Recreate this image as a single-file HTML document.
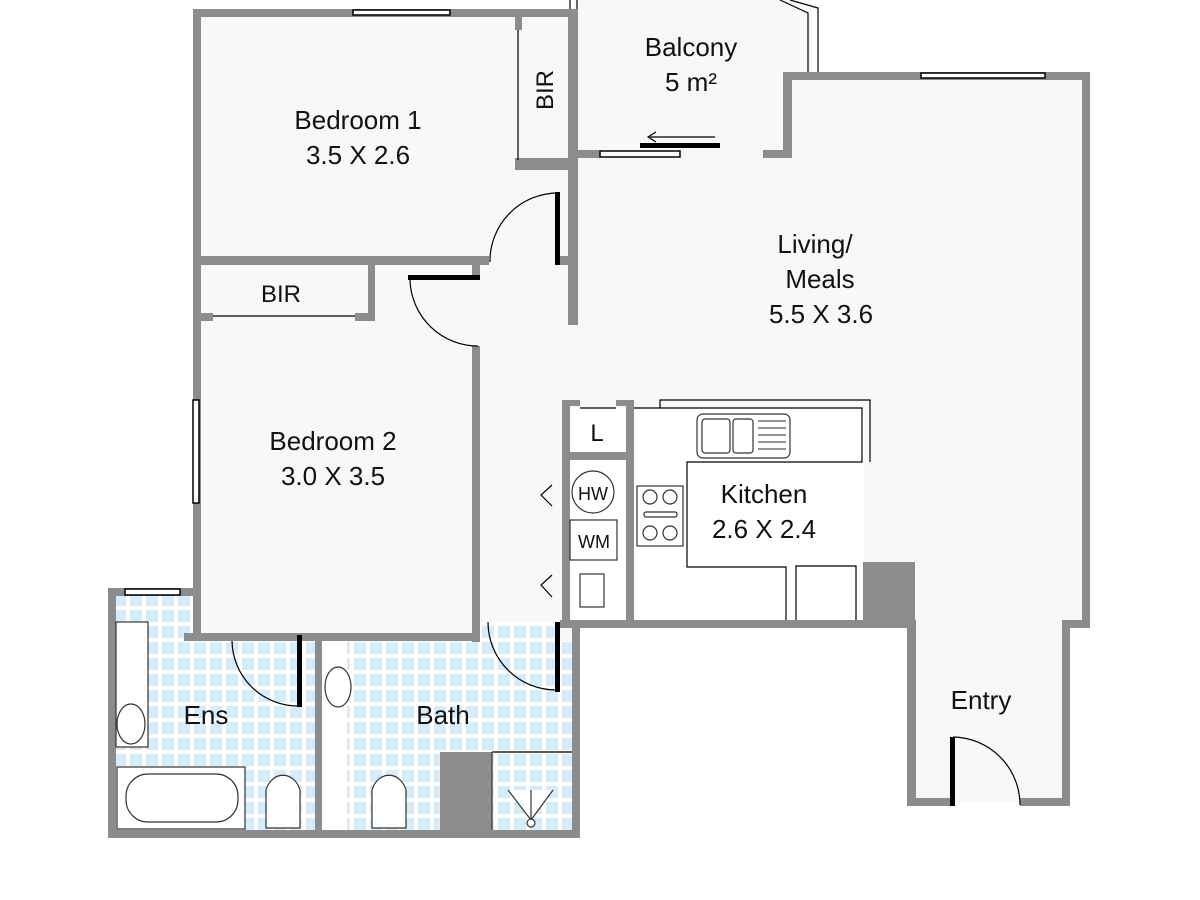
<!DOCTYPE html>
<html><head><style>html,body{margin:0;padding:0;background:#fff}svg{display:block}
text{font-family:"Liberation Sans",sans-serif;fill:#111}</style></head><body>
<svg width="1200" height="900" viewBox="0 0 1200 900" xmlns="http://www.w3.org/2000/svg">
<defs>
<pattern id="tile" width="16" height="16" patternUnits="userSpaceOnUse"><rect width="16" height="16" fill="#fff"/><rect x="2" y="2" width="12" height="12" fill="#d6ecfa"/></pattern>
</defs>
<!-- floor fills -->
<g fill="#f8f8f6">
<rect x="197" y="13" width="377" height="630"/>
<rect x="574" y="0" width="238" height="160"/>
<rect x="574" y="76" width="512" height="550"/>
<rect x="912" y="620" width="154" height="182"/>
</g>
<rect x="112" y="592" width="85" height="240" fill="url(#tile)"/>
<rect x="197" y="641" width="118" height="191" fill="url(#tile)"/>
<rect x="347" y="641" width="226" height="191" fill="url(#tile)"/>
<rect x="480" y="622" width="80" height="20" fill="url(#tile)"/>
<rect x="322" y="637" width="25" height="193" fill="#fff"/>
<rect x="634" y="408" width="230" height="214" fill="#fff"/>
<rect x="570" y="408" width="58" height="214" fill="#fff"/>
<!-- walls -->
<g fill="#8c8c8c">
<rect x="193" y="9" width="382" height="8"/>
<rect x="193" y="9" width="8" height="632"/>
<rect x="568" y="9" width="10" height="316"/>
<rect x="515" y="17" width="7" height="13"/>
<rect x="515" y="158" width="63" height="12"/>
<rect x="201" y="256" width="288" height="9"/>
<rect x="560" y="256" width="10" height="9"/>
<rect x="368" y="265" width="7" height="55"/>
<rect x="201" y="313" width="12" height="8"/>
<rect x="355" y="313" width="20" height="8"/>
<rect x="472" y="265" width="8" height="12"/>
<rect x="472" y="346" width="8" height="296"/>
<rect x="193" y="633" width="287" height="8"/>
<rect x="578" y="150" width="22" height="8"/>
<rect x="763" y="150" width="28" height="8"/>
<rect x="783" y="72" width="9" height="86"/>
<rect x="783" y="72" width="307" height="8"/>
<rect x="1082" y="72" width="8" height="556"/>
<rect x="1062" y="620" width="28" height="8"/>
<rect x="1062" y="620" width="8" height="186"/>
<rect x="907" y="620" width="9" height="186"/>
<rect x="907" y="798" width="45" height="8"/>
<rect x="1020" y="798" width="50" height="8"/>
<rect x="560" y="620" width="356" height="8"/>
<rect x="863" y="562" width="52" height="60"/>
<rect x="562" y="400" width="8" height="228"/>
<rect x="626" y="400" width="8" height="228"/>
<rect x="570" y="400" width="10" height="6"/>
<rect x="616" y="400" width="10" height="6"/>
<rect x="570" y="452" width="56" height="8"/>
<rect x="108" y="588" width="8" height="250"/>
<rect x="108" y="588" width="92" height="8"/>
<rect x="108" y="830" width="472" height="8"/>
<rect x="572" y="628" width="8" height="210"/>
<rect x="315" y="637" width="7" height="193"/>
<rect x="440" y="752" width="52" height="78"/>
<rect x="184" y="633" width="16" height="8"/>
</g>
<!-- windows -->
<g fill="#fff" stroke="#000" stroke-width="1.5">
<rect x="353" y="10" width="97" height="5"/>
<rect x="921" y="73" width="124" height="5"/>
<rect x="600" y="151" width="80" height="6"/>
<rect x="125" y="589" width="55" height="6"/>
<rect x="193" y="400" width="6" height="103"/>
</g>
<g fill="none" stroke="#000" stroke-width="1.2">
<path d="M570 0 V9 M577 0 V9"/>
<path d="M780 0 L808 13 V72 M790 0 L818 8 V72"/>
<path d="M518 30 V160"/>
<path d="M213 316 H355"/>
<path d="M715 137 H650 M656 132 L648 137 L656 142"/>
<path d="M558 193 A68 68 0 0 0 490 262"/>
<path d="M410 280 A68 68 0 0 0 478 346"/>
<path d="M953 737 A68 68 0 0 1 1020 805"/>
<path d="M232 641 A66 66 0 0 0 298 706"/>
<path d="M488 622 A68 68 0 0 0 556 690"/>
<path d="M580 408 H616"/>
<path d="M660 408 V400 H870 V462 M634 408 H862 V462 H687 V567 H786 V620"/>
<path d="M796 620 V566 H856 V620"/>
<path d="M552 485 L541 495 L552 506 M552 575 L541 585 L552 597"/>
<path d="M492 752 H572"/>
</g>
<g fill="#000">
<rect x="640" y="143" width="80" height="5"/>
<rect x="555" y="192" width="5" height="73"/>
<rect x="408" y="275" width="72" height="5"/>
<rect x="950" y="737" width="5" height="69"/>
<rect x="297" y="635" width="5" height="72"/>
<rect x="555" y="622" width="5" height="70"/>
</g>
<!-- fixtures -->
<g fill="#fff" stroke="#333" stroke-width="1.2">
<rect x="697" y="414" width="93" height="44" rx="6"/>
<rect x="702" y="419" width="28" height="34" rx="3"/>
<rect x="733" y="419" width="20" height="34" rx="3"/>
<rect x="637" y="486" width="46" height="60"/>
<circle cx="650" cy="497" r="7"/><circle cx="670" cy="497" r="7"/>
<circle cx="650" cy="533" r="7"/><circle cx="670" cy="533" r="7"/>
<rect x="644" y="512" width="33" height="5" rx="2"/>
<circle cx="593" cy="492" r="21"/>
<rect x="570" y="520" width="47" height="40"/>
<rect x="580" y="574" width="24" height="33"/>
<rect x="116" y="622" width="32" height="125"/>
<ellipse cx="131" cy="724" rx="14" ry="20"/>
<rect x="117" y="767" width="128" height="62"/>
<rect x="126" y="774" width="112" height="48" rx="22"/>
<ellipse cx="338" cy="687" rx="13" ry="20"/>
<path d="M266 828 V790 A18 22 0 0 1 300 790 V828 Z"/>
<path d="M372 828 V790 A18 22 0 0 1 406 790 V828 Z"/>
<path d="M492 752 V830"/>
<path d="M508 790 L531 820 L553 790 M531 790 V820"/>
<circle cx="531" cy="823" r="4"/>
</g>
<g stroke="#555" stroke-width="1.2"><path d="M758 421H786M758 428H786M758 435H786M758 442H786M758 449H786"/></g>
<!-- labels -->
<g font-size="26" text-anchor="middle">
<text x="358" y="129">Bedroom 1</text>
<text x="358" y="164">3.5 X 2.6</text>
<text x="691" y="56">Balcony</text>
<text x="691" y="91">5 m²</text>
<text x="815" y="253">Living/</text>
<text x="820" y="288">Meals</text>
<text x="821" y="323">5.5 X 3.6</text>
<text x="333" y="450">Bedroom 2</text>
<text x="333" y="485">3.0 X 3.5</text>
<text x="764" y="503">Kitchen</text>
<text x="764" y="538">2.6 X 2.4</text>
<text x="981" y="709">Entry</text>
<text x="206" y="724">Ens</text>
<text x="443" y="724">Bath</text>
<text x="281" y="302" font-size="24">BIR</text>
<text x="597" y="441" font-size="24">L</text>
<text x="593" y="500" font-size="18">HW</text>
<text x="594" y="548" font-size="18">WM</text>
<text transform="translate(553,90) rotate(-90)" font-size="24">BIR</text>
</g>
</svg>
</body></html>
